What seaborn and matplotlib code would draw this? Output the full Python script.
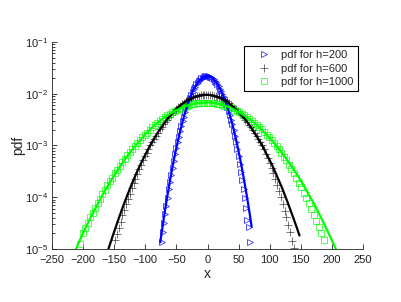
import numpy as np
import matplotlib
matplotlib.use("Agg")
import matplotlib.pyplot as plt
import seaborn as sns

# histogram bin centres (x) and log10(pdf)
x_h200 = np.arange(-74, 69, 2)
logpdf_h200 = [-4.86, -4.68, -4.50, -4.33, -4.17, -4.01, -3.85, -3.71, -3.57, -3.43,
               -3.30, -3.17, -3.05, -2.94, -2.83, -2.72, -2.62, -2.53,
               -2.44, -2.36, -2.28, -2.21, -2.14, -2.08, -2.02, -1.96, -1.91, -1.87,
               -1.82, -1.79, -1.76, -1.73, -1.70, -1.69, -1.67, -1.66, -1.66,
               -1.66, -1.66, -1.67, -1.68, -1.70, -1.72, -1.75, -1.78, -1.81, -1.85,
               -1.90, -1.95, -2.00, -2.06, -2.12, -2.19, -2.26, -2.34, -2.42, -2.50, -2.59,
               -2.70, -2.82, -2.94, -3.07, -3.21, -3.35, -3.51, -3.67, -3.84, -4.02,
               -4.21, -4.44, -4.58, -4.86]

x_h600 = np.arange(-149, 140, 3)
logpdf_h600 = [-4.83, -4.71, -4.59, -4.47, -4.35, -4.24, -4.13, -4.03, -3.93, -3.83,
               -3.73, -3.64, -3.55, -3.46, -3.38, -3.29, -3.21, -3.14, -3.07, -3.00,
               -2.93, -2.87, -2.81, -2.75, -2.69, -2.64, -2.59, -2.54, -2.50, -2.45,
               -2.41, -2.37, -2.33, -2.30, -2.26, -2.23, -2.20, -2.17, -2.15, -2.13,
               -2.11, -2.09, -2.07, -2.06, -2.05, -2.04, -2.03, -2.02, -2.02, -2.02,
               -2.02, -2.03, -2.03, -2.04, -2.05, -2.06, -2.07, -2.09, -2.11, -2.13,
               -2.15, -2.18, -2.21, -2.24, -2.27, -2.30, -2.34, -2.38, -2.42, -2.46,
               -2.50, -2.55, -2.60, -2.65, -2.70, -2.76, -2.82, -2.88, -2.94, -3.00,
               -3.07, -3.16, -3.25, -3.34, -3.44, -3.54, -3.65, -3.76, -3.88, -4.00,
               -4.13, -4.26, -4.39, -4.54, -4.68, -4.84, -4.99]

x_h1000 = np.arange(-205, 188, 4)
logpdf_h1000 = [-4.90, -4.69, -4.59, -4.49, -4.39, -4.30, -4.20, -4.11, -4.03, -3.94,
                -3.86, -3.77, -3.69, -3.62, -3.54, -3.47, -3.39, -3.32, -3.26, -3.19,
                -3.13, -3.07, -3.01, -2.95, -2.89, -2.84, -2.79,
                -2.75, -2.70, -2.65, -2.61, -2.57, -2.53, -2.49, -2.45, -2.42, -2.39,
                -2.36, -2.33, -2.31, -2.29, -2.27, -2.25, -2.23, -2.21, -2.20, -2.19,
                -2.18, -2.18, -2.17, -2.17, -2.17,
                -2.17, -2.18, -2.18, -2.19, -2.20, -2.21, -2.23, -2.24, -2.26, -2.28,
                -2.31, -2.33, -2.36, -2.39, -2.42, -2.45, -2.48, -2.52, -2.56, -2.60,
                -2.65, -2.69, -2.74, -2.79, -2.84, -2.89, -2.95,
                -3.01, -3.07, -3.14, -3.22, -3.29, -3.37, -3.45, -3.54, -3.62, -3.72,
                -3.81, -3.91, -4.01, -4.11, -4.22, -4.34, -4.45, -4.57, -4.69, -4.82]

# fitted curves (solid lines)
xfit_h200 = [-76, -72, -68, -64, -60, -56, -52, -48, -44, -40, -36, -32, -28, -24, -20,
             -16, -12, -8, -4, 0, 4, 8, 12, 16, 20, 24, 28, 32, 36, 40, 44, 48, 52,
             56, 60, 64, 68, 71]
logfit_h200 = [-4.87, -4.54, -4.22, -3.93, -3.65, -3.39, -3.15, -2.93, -2.72, -2.53,
               -2.36, -2.21, -2.08, -1.96, -1.87, -1.79, -1.73, -1.69, -1.66, -1.66,
               -1.67, -1.70, -1.75, -1.81, -1.90, -2.00, -2.12, -2.26, -2.42, -2.59,
               -2.79, -3.00, -3.23, -3.48, -3.75, -4.03, -4.33, -4.57]

xfit_h600 = list(range(-160, 145, 8)) + [148]
logfit_h600 = [-5.02, -4.73, -4.45, -4.18, -3.93, -3.69, -3.47, -3.27, -3.08, -2.91,
               -2.75, -2.61, -2.48, -2.37, -2.27, -2.19, -2.13, -2.08, -2.04, -2.02,
               -2.02, -2.03, -2.06, -2.10, -2.16, -2.24, -2.33, -2.43, -2.55, -2.69,
               -2.84, -3.00, -3.19, -3.38, -3.60, -3.82, -4.07, -4.33, -4.60, -4.74]

xfit_h1000 = list(range(-215, 216, 10))
logfit_h1000 = [-5.09, -4.82, -4.56, -4.32, -4.09, -3.87, -3.67, -3.48, -3.30, -3.14,
                -2.99, -2.85, -2.72, -2.61, -2.51, -2.42, -2.35, -2.29, -2.24, -2.20,
                -2.18, -2.17, -2.17, -2.19, -2.22, -2.26, -2.32, -2.39, -2.47, -2.56,
                -2.67, -2.79, -2.92, -3.07, -3.23, -3.40, -3.58, -3.78, -3.99, -4.21,
                -4.45, -4.70, -4.96, -5.24]

sns.set_style("ticks")
plt.rcParams["font.family"] = ["Liberation Sans", "DejaVu Sans"]
plt.rcParams["mathtext.fontset"] = "custom"
plt.rcParams["mathtext.rm"] = "Liberation Sans"
plt.rcParams["mathtext.it"] = "Liberation Sans:italic"
plt.rcParams["mathtext.default"] = "regular"

fig = plt.figure(figsize=(4.01, 3.02), dpi=100)
ax = fig.add_axes([0.130, 0.1755, 0.775, 0.6855])
ax.set_yscale("log")

# data markers
sns.lineplot(x=x_h200, y=10.0 ** np.array(logpdf_h200), ax=ax, linestyle="none",
             marker=">", markersize=5, markerfacecolor="none", markeredgecolor="#0000ff",
             markeredgewidth=0.55, color="#0000ff", alpha=0.85, label="pdf for h=200")
sns.lineplot(x=x_h600, y=10.0 ** np.array(logpdf_h600), ax=ax, linestyle="none",
             marker="+", markersize=6, markeredgecolor="black",
             markeredgewidth=0.5, color="black", alpha=0.75, label="pdf for h=600")
sns.lineplot(x=x_h1000, y=10.0 ** np.array(logpdf_h1000), ax=ax, linestyle="none",
             marker="s", markersize=4.5, markerfacecolor="none", markeredgecolor="#00ff00",
             markeredgewidth=0.55, color="#00ff00", alpha=0.85, label="pdf for h=1000")

# fitted lines
sns.lineplot(x=xfit_h200, y=10.0 ** np.array(logfit_h200), ax=ax, color="#0000ff", linewidth=1.6)
sns.lineplot(x=xfit_h600, y=10.0 ** np.array(logfit_h600), ax=ax, color="black", linewidth=1.6)
sns.lineplot(x=xfit_h1000, y=10.0 ** np.array(logfit_h1000), ax=ax, color="#00ff00", linewidth=1.6)

ax.set_xlim(-250, 250)
ax.set_ylim(1e-5, 1e-1)
ax.set_xticks(range(-250, 251, 50))
ax.set_xlabel("x", fontsize=10, labelpad=2)
ax.set_ylabel("pdf", fontsize=10)
ax.yaxis.set_label_coords(-0.088, 0.5)

sns.despine(ax=ax)
for s in ["left", "bottom"]:
    ax.spines[s].set_linewidth(0.6)
    ax.spines[s].set_color("#222222")
ax.tick_params(which="both", direction="in", labelsize=8, colors="#222222", width=0.6)
ax.tick_params(which="major", length=3.5, pad=3)
ax.tick_params(axis="x", which="major", pad=4)
ax.tick_params(which="minor", length=2)

handles, labels = ax.get_legend_handles_labels()
leg = ax.legend(handles, labels, loc="upper right", bbox_to_anchor=(0.985, 0.981),
                borderaxespad=0, fontsize=8, fancybox=False, edgecolor="black",
                framealpha=1, handlelength=2.8, handletextpad=0.2, labelspacing=0.3)
leg.get_frame().set_linewidth(0.8)

fig.savefig("out.png", dpi=100)
